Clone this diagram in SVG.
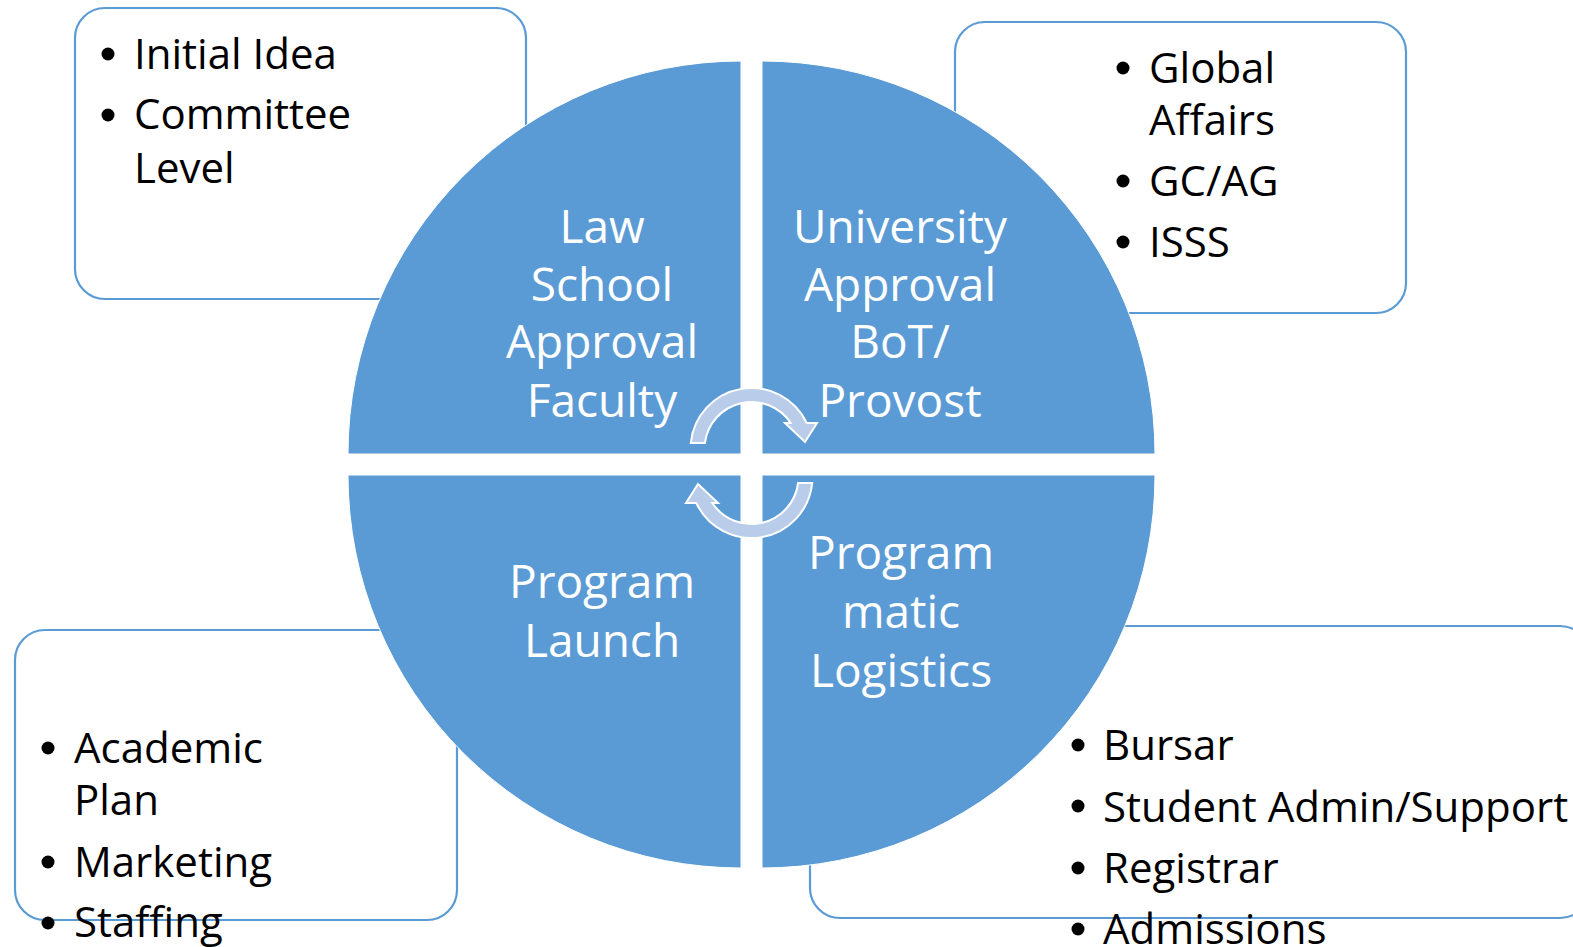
<svg xmlns="http://www.w3.org/2000/svg" width="1573" height="947" viewBox="0 0 1573 947">
<style>
.box{fill:#fff;stroke:#5B9BD5;stroke-width:2.2}
.bt{font-family:"Open Sans","Noto Sans",sans-serif;font-size:42px;fill:#000}
.bul{fill:#000}
.q{fill:#5B9BD5;stroke:#fff;stroke-width:1}
.qt{font-family:"Open Sans","Noto Sans",sans-serif;font-size:46px;fill:#fff;text-anchor:middle}
.arr{fill:#B9CCE9;stroke:#fff;stroke-width:2;stroke-linejoin:miter}
</style>
<rect width="1573" height="947" fill="#fff"/>
<g id="box-tl">
<rect class="box" x="75" y="8" width="451" height="291" rx="30"/>
<circle class="bul" cx="108" cy="54" r="6.5"/>
<circle class="bul" cx="108" cy="115" r="6.5"/>
<text class="bt" x="134" y="69">Initial Idea</text>
<text class="bt" x="134" y="129">Committee</text>
<text class="bt" x="134" y="183">Level</text>
</g>
<g id="box-tr">
<rect class="box" x="955" y="22" width="451" height="291" rx="30"/>
<circle class="bul" cx="1123" cy="68" r="6.5"/>
<circle class="bul" cx="1123" cy="181" r="6.5"/>
<circle class="bul" cx="1123" cy="242" r="6.5"/>
<text class="bt" x="1149" y="83">Global</text>
<text class="bt" x="1149" y="135">Affairs</text>
<text class="bt" x="1149" y="196">GC/AG</text>
<text class="bt" x="1149" y="257">ISSS</text>
</g>
<g id="box-bl">
<rect class="box" x="15" y="630" width="442" height="290" rx="30"/>
<circle class="bul" cx="48" cy="748" r="6.5"/>
<circle class="bul" cx="48" cy="862" r="6.5"/>
<circle class="bul" cx="48" cy="923" r="6.5"/>
<text class="bt" x="74" y="763">Academic</text>
<text class="bt" x="74" y="815">Plan</text>
<text class="bt" x="74" y="877">Marketing</text>
<text class="bt" x="74" y="937">Staffing</text>
</g>
<g id="box-br">
<rect class="box" x="810" y="626" width="780" height="292" rx="30"/>
<circle class="bul" cx="1078" cy="745" r="6.5"/>
<circle class="bul" cx="1078" cy="806" r="6.5"/>
<circle class="bul" cx="1078" cy="868" r="6.5"/>
<circle class="bul" cx="1078" cy="929" r="6.5"/>
<text class="bt" x="1103" y="760">Bursar</text>
<text class="bt" x="1103" y="822">Student Admin/Support</text>
<text class="bt" x="1103" y="883">Registrar</text>
<text class="bt" x="1103" y="944">Admissions</text>
</g>
<g id="q-tl">
<path class="q" d="M741 454 L348 454 A393 393 0 0 1 741 61 Z"/>
<text class="qt" x="602" y="243">Law</text>
<text class="qt" x="602" y="301">School</text>
<text class="qt" x="602" y="358">Approval</text>
<text class="qt" x="602" y="417">Faculty</text>
</g>
<g id="q-tr">
<path class="q" d="M762 454 L762 61 A393 393 0 0 1 1155 454 Z"/>
<text class="qt" x="900" y="243">University</text>
<text class="qt" x="900" y="301">Approval</text>
<text class="qt" x="900" y="358">BoT/</text>
<text class="qt" x="900" y="417">Provost</text>
</g>
<g id="q-bl">
<path class="q" d="M741 475 L741 868 A393 393 0 0 1 348 475 Z"/>
<text class="qt" x="602" y="598">Program</text>
<text class="qt" x="602" y="657">Launch</text>
</g>
<g id="q-br">
<path class="q" d="M762 475 L1155 475 A393 393 0 0 1 762 868 Z"/>
<text class="qt" x="901" y="569">Program</text>
<text class="qt" x="901" y="628">matic</text>
<text class="qt" x="901" y="687">Logistics</text>
</g>
<g id="connectors">
<path id="arrow-top" class="arr" d="M690.8 443 A61 61 0 0 1 806.7 423 L817 423 L805 442 L785 423 L790.7 423 A47 47 0 0 0 704.9 443 Z"/>
<path id="arrow-bottom" class="arr" transform="rotate(180 751.5 463)" d="M690.8 443 A61 61 0 0 1 806.7 423 L817 423 L805 442 L785 423 L790.7 423 A47 47 0 0 0 704.9 443 Z"/>
</g>
</svg>
